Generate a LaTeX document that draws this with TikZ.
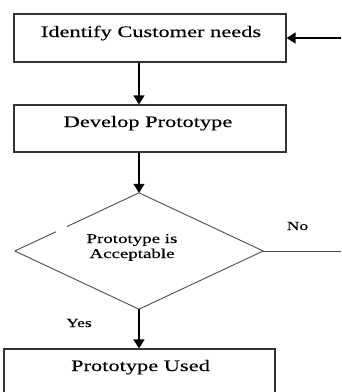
\documentclass[tikz,border=0pt]{standalone}
\usepackage{fontspec}
\setmainfont{Liberation Serif}[FakeStretch=1.4, FakeBold=0.3]
\usetikzlibrary{arrows.meta,shapes.geometric,calc}

\tikzset{
  procbox/.style={draw=black!80, line width=1.1pt, rectangle, inner sep=0pt},
  boxtext/.style={anchor=base, inner sep=0pt, font=\fontsize{16}{18}\selectfont},
  dectext/.style={anchor=base, inner sep=0pt, font=\fontsize{13.5}{15}\selectfont},
  lbl/.style={anchor=base, inner sep=0pt, font=\fontsize{12.5}{14}\selectfont},
  edge/.style={draw=black!70, line width=0.9pt},
  arr/.style={draw=black, line width=1.3pt, -{Triangle[length=9pt,width=11pt]}},
}

\begin{document}
\begin{tikzpicture}[x=1pt,y=-1pt]
  \useasboundingbox (0,0) rectangle (341,392);
  \clip (0,0) rectangle (341,392);

  % process boxes
  \node[procbox, minimum width=272pt, minimum height=48pt] (b1) at (150,38) {};
  \node[boxtext] (t1) at (151,37) {Identify Customer needs};

  \node[procbox, minimum width=272pt, minimum height=47pt] (b2) at (150,128.5) {};
  \node[boxtext] (t2) at (148,127) {Develop Prototype};

  \node[procbox, minimum width=271pt, minimum height=60pt] (b3) at (139.5,379) {};
  \node[boxtext] (t3) at (140.5,371) {Prototype Used};

  % decision
  \node[diamond, inner sep=0pt, minimum width=248pt, minimum height=116pt] (d) at (139,251) {};
  \node[dectext] (q1) at (132,243) {Prototype is};
  \node[dectext] (q2) at (132,258) {Acceptable};

  % diamond outline (upper-left edge has a small break)
  \draw[edge] (d.west) -- ($(d.west)!0.33!(d.north)$);
  \draw[edge] ($(d.west)!0.42!(d.north)$) -- (d.north) -- (d.east) -- (d.south) -- (d.west);

  % labels
  \node[lbl] (no) at (297.5,230) {No};
  \node[lbl] (yes) at (79,327) {Yes};

  % flow
  \coordinate (rlow) at (341,251);
  \coordinate (rhigh) at (341,38);
  \draw[arr] (b1.south -| d.north) -- (b2.north -| d.north);
  \draw[arr] (b2.south -| d.north) -- (d.north);
  \draw[arr] (d.south) -- (b3.north -| d.south);
  \draw[edge] (d.east) -- (rlow);
  \draw[arr] (rhigh) -- (b1.east);
\end{tikzpicture}
\end{document}
